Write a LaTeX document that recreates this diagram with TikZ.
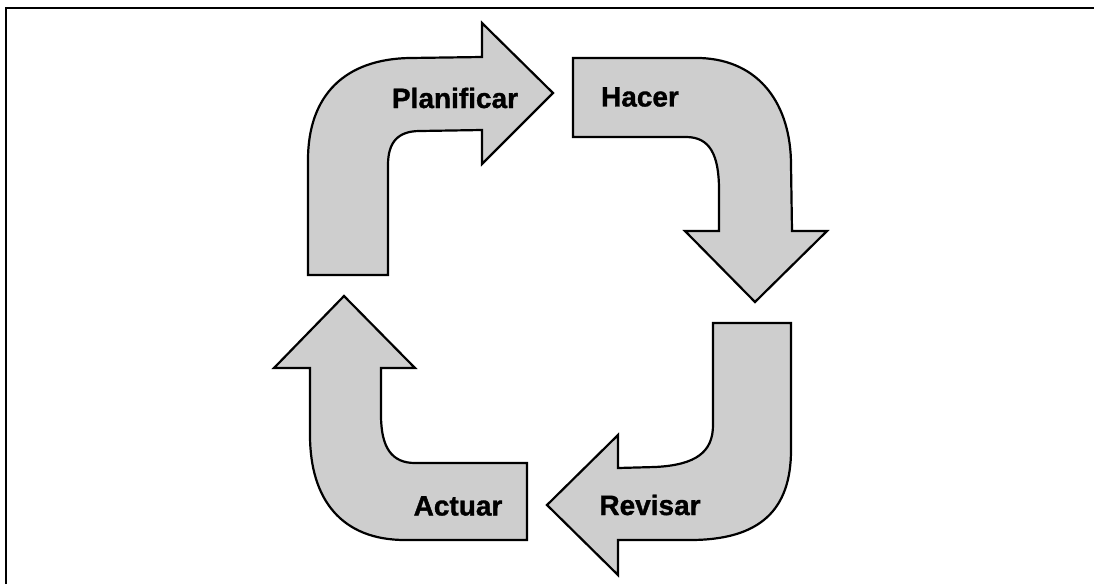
\documentclass[tikz,border=0pt]{standalone}
\usepackage{fontspec}
\newfontfamily\labelfont{Liberation Sans}[BoldFeatures={FakeBold=1.2}]
\usepackage{tikz}
\usetikzlibrary{arrows.meta}
\definecolor{fillgray}{RGB}{206,206,206}
\tikzset{>={Latex[width=1.5mm,length=1.5mm]}}
\tikzset{bentarrow/.style={draw=black, line width=2.2pt, fill=fillgray, line join=miter}}
\tikzset{label/.style={font=\labelfont\bfseries\fontsize{28}{30}\selectfont, inner sep=0pt}}

\begin{document}
\begin{tikzpicture}[x=1pt, y=-1pt]
  \useasboundingbox (0,0) rectangle (1094,584);
  \draw[line width=2.5pt] (6,584) -- (6,8) -- (1094,8);

  \draw[bentarrow] (308,275) -- (308,160) .. controls (308,95) and (345,59) .. (410,58)
    -- (482,57) -- (482,23) -- (553,93) -- (482,164) -- (482,130) -- (420,131)
    .. controls (398,131) and (388,142) .. (388,165) -- (388,275) -- cycle;
  \draw[bentarrow] (573,58) -- (700,58) .. controls (760,60) and (791,105) .. (791,165)
    -- (792,231) -- (827,231) -- (755,302) -- (685,231) -- (719,231) -- (719,190)
    .. controls (719,155) and (710,137) .. (686,137) -- (573,137) -- cycle;
  \draw[bentarrow] (713,323) -- (791,323) -- (791,450) .. controls (791,510) and (760,540) .. (690,540)
    -- (618,540) -- (618,575) -- (547,505) -- (618,435) -- (618,468) -- (655,467)
    .. controls (696,465) and (713,452) .. (713,425) -- cycle;
  \draw[bentarrow] (344,296) -- (415,368) -- (381,368) -- (381,415)
    .. controls (381,448) and (392,463) .. (415,463) -- (527,463) -- (527,540) -- (405,540)
    .. controls (342,540) and (310,500) .. (310,435) -- (310,368) -- (274,368) -- cycle;

  \node[label] (PLANIFICAR) at (455,98) {Planificar};
  \node[label] (HACER) at (640,97) {Hacer};
  \node[label] (REVISAR) at (650,505) {Revisar};
  \node[label] (ACTUAR) at (458,506) {Actuar};
\end{tikzpicture}
\end{document}
